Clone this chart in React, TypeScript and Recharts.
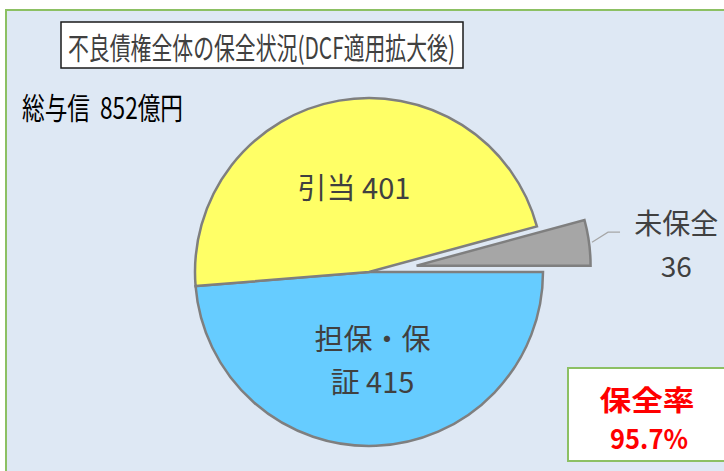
import { PieChart, Pie, Cell } from 'recharts'

// slices in drawing order, clockwise from 3 o'clock
const categories = ['担保・保証', '引当', '未保全']
const values = [415, 401, 36]
const sliceColors = ['#66CCFF', '#FFFF66', '#A6A6A6']

const titleText = '不良債権全体の保全状況(DCF適用拡大後)'
const totalText = '総与信\u00a0\u00a0852億円'
const ratioLabel = '保全率'
const ratioValue = '95.7%'

const data = categories.map((name, i) => ({ name, value: values[i] }))

const FONT = '"Noto Sans CJK JP", "Noto Sans", sans-serif'
const RAD = Math.PI / 180
// recharts adds its 5px margin to cx / cy
const CX = 364
const CY = 267
const R = 174
const EXPLODE = 48
const EXPLODED = 2

// mid angle of the exploded slice, to shift its pie
const total = values.reduce((a, b) => a + b, 0)
const before = values.slice(0, EXPLODED).reduce((a, b) => a + b, 0)
const explodeMid = -((before + values[EXPLODED] / 2) / total) * 360
const ECX = CX + EXPLODE * Math.cos(-explodeMid * RAD)
const ECY = CY + EXPLODE * Math.sin(-explodeMid * RAD)

function splitLabel(name: string, value: number, index: number) {
  if (index === 0) {
    const full = `${name} ${value}`
    return [full.slice(0, 4), full.slice(4)]
  }
  if (index === 2) return [name, String(value)]
  return [`${name} ${value}`]
}

const renderInnerLabel = (props: any) => {
  const { cx, cy, midAngle, outerRadius, index, value, name } = props
  if (index === EXPLODED) return null
  const d = outerRadius * 0.5
  const x = cx + d * Math.cos(-midAngle * RAD)
  const y = cy + d * Math.sin(-midAngle * RAD)
  const lines = splitLabel(name, value, index)
  const lh = 43
  const y0 = y - ((lines.length - 1) * lh) / 2
  return (
    <g key={`in-${index}`}>
      {lines.map((t, i) => (
        <text
          key={i}
          x={x}
          y={y0 + i * lh}
          textAnchor="middle"
          dominantBaseline="central"
          fill="#404040"
          fontSize={29}
          fontFamily={FONT}
        >
          {t}
        </text>
      ))}
    </g>
  )
}

const renderOuterLabel = (props: any) => {
  const { cx, cy, midAngle, outerRadius, index, value, name } = props
  if (index !== EXPLODED) return null
  const cos = Math.cos(-midAngle * RAD)
  const sin = Math.sin(-midAngle * RAD)
  const sx = cx + (outerRadius + 3) * cos
  const sy = cy + (outerRadius + 3) * sin
  const ex = sx + 16
  const ey = sy - 10
  const tx = cx + (outerRadius + 88) * cos
  const ty = cy + (outerRadius + 88) * sin
  const lines = splitLabel(name, value, index)
  return (
    <g key={`out-${index}`}>
      <polyline
        points={`${sx},${sy} ${ex},${ey} ${ex + 12},${ey}`}
        fill="none"
        stroke="#A6A6A6"
        strokeWidth={1.2}
      />
      {lines.map((t, i) => (
        <text
          key={i}
          x={tx}
          y={ty - 9 + i * 43}
          textAnchor="middle"
          dominantBaseline="central"
          fill="#404040"
          fontSize={28}
          fontFamily={FONT}
        >
          {t}
        </text>
      ))}
    </g>
  )
}

export default function App() {
  return (
    <div
      style={{
        position: 'absolute',
        left: 0,
        top: 0,
        width: 724,
        height: 471,
        overflow: 'hidden',
        background: '#ffffff',
        fontFamily: FONT,
      }}
    >
      {/* chart area background */}
      <div
        style={{
          position: 'absolute',
          left: 5,
          top: 9,
          width: 740,
          height: 480,
          border: '2px solid #8CC063',
          background: '#DEE8F4',
        }}
      />
      <div style={{ position: 'absolute', left: 0, top: 0 }}>
        <PieChart width={724} height={471}>
          <Pie
            data={data}
            dataKey="value"
            nameKey="name"
            cx={CX}
            cy={CY}
            outerRadius={R}
            startAngle={0}
            endAngle={-360}
            stroke="#7F7F7F"
            strokeWidth={2.5}
            label={renderInnerLabel}
            labelLine={false}
            isAnimationActive={false}
          >
            {data.map((d, i) => (
              <Cell
                key={d.name}
                fill={i === EXPLODED ? 'none' : sliceColors[i]}
                stroke={i === EXPLODED ? 'none' : '#7F7F7F'}
              />
            ))}
          </Pie>
          <Pie
            data={data}
            dataKey="value"
            nameKey="name"
            cx={ECX}
            cy={ECY}
            outerRadius={R}
            startAngle={0}
            endAngle={-360}
            stroke="#7F7F7F"
            strokeWidth={2.5}
            label={renderOuterLabel}
            labelLine={false}
            isAnimationActive={false}
          >
            {data.map((d, i) => (
              <Cell
                key={d.name}
                fill={i === EXPLODED ? sliceColors[i] : 'none'}
                stroke={i === EXPLODED ? '#7F7F7F' : 'none'}
              />
            ))}
          </Pie>
        </PieChart>
      </div>
      {/* title, total and ratio box */}
      <svg
        width={724}
        height={471}
        style={{ position: 'absolute', left: 0, top: 0, pointerEvents: 'none' }}
      >
        <rect x={61} y={22} width={402} height={46} fill="#ffffff" stroke="#1a1a1a" strokeWidth={1.5} />
        <text
          x={68}
          y={46}
          dominantBaseline="central"
          fontSize={30}
          fill="#404040"
          fontFamily={FONT}
          textLength={387}
          lengthAdjust="spacingAndGlyphs"
        >
          {titleText}
        </text>
        <text
          x={22}
          y={106}
          dominantBaseline="central"
          fontSize={30}
          fill="#000000"
          fontFamily={FONT}
          textLength={161}
          lengthAdjust="spacingAndGlyphs"
        >
          {totalText}
        </text>
        <rect x={568} y={368} width={170} height={93} fill="#ffffff" stroke="#8CC063" strokeWidth={2} />
        <text
          x={647}
          y={399}
          textAnchor="middle"
          dominantBaseline="central"
          fontSize={28}
          fontWeight="bold"
          fill="#FF0000"
          fontFamily={FONT}
          textLength={95}
          lengthAdjust="spacingAndGlyphs"
        >
          {ratioLabel}
        </text>
        <text
          x={649}
          y={437}
          textAnchor="middle"
          dominantBaseline="central"
          fontSize={27}
          fontWeight="bold"
          fill="#FF0000"
          fontFamily={FONT}
          textLength={78}
          lengthAdjust="spacingAndGlyphs"
        >
          {ratioValue}
        </text>
      </svg>
    </div>
  )
}
